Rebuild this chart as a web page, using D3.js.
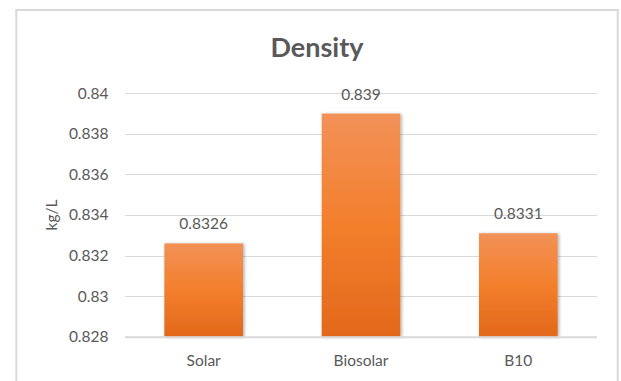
<!DOCTYPE html>
<html>
<head>
<meta charset="utf-8">
<script src="https://cdn.jsdelivr.net/npm/d3@7"></script>
<style>
  html, body { margin: 0; padding: 0; background: #fff; }
  svg { display: block; }
  text { font-family: Lato, "Open Sans", sans-serif; fill: #595959; }
</style>
</head>
<body>
<svg id="chart" width="621" height="381"></svg>
<script>
// Density of each fuel sample (kg/L)
const categories = ["Solar", "Biosolar", "B10"];
const density = [0.8326, 0.839, 0.8331];
const valueLabels = ["0.8326", "0.839", "0.8331"];
const yTicks = [0.828, 0.83, 0.832, 0.834, 0.836, 0.838, 0.84];
const yTickLabels = ["0.828", "0.83", "0.832", "0.834", "0.836", "0.838", "0.84"];
const chartTitle = "Density";
const yTitle = "kg/L";

const svg = d3.select("#chart");
const W = 621, H = 381;
const plot = { left: 125, right: 597, top: 93.3, bottom: 336.7 };

// chart frame
svg.append("rect")
  .attr("x", 16.3).attr("y", 10)
  .attr("width", 601.4).attr("height", 400)
  .attr("fill", "#fff")
  .attr("stroke", "#d9d9d9")
  .attr("stroke-width", 2);

const defs = svg.append("defs");
const grad = defs.append("linearGradient")
  .attr("id", "barGrad")
  .attr("x1", 0).attr("y1", 0).attr("x2", 0).attr("y2", 1);
grad.append("stop").attr("offset", "0%").attr("stop-color", "#f29158");
grad.append("stop").attr("offset", "50%").attr("stop-color", "#f37f2c");
grad.append("stop").attr("offset", "100%").attr("stop-color", "#e2681b");

const shadow = defs.append("filter").attr("id", "barShadow")
  .attr("x", "-10%").attr("y", "-10%").attr("width", "130%").attr("height", "120%");
shadow.append("feDropShadow")
  .attr("dx", 1.5).attr("dy", 0.5)
  .attr("stdDeviation", 1.4)
  .attr("flood-color", "#000")
  .attr("flood-opacity", 0.3);

const x = d3.scaleBand()
  .domain(categories)
  .range([plot.left, plot.right])
  .paddingInner(0.5)
  .paddingOuter(0.25);

const y = d3.scaleLinear()
  .domain([yTicks[0], yTicks[yTicks.length - 1]])
  .range([plot.bottom, plot.top]);

// horizontal gridlines
const grid = svg.append("g")
  .attr("transform", `translate(${plot.left},0)`)
  .call(d3.axisLeft(y)
    .tickValues(yTicks)
    .tickSize(-(plot.right - plot.left))
    .tickFormat(""));
grid.select(".domain").remove();
grid.selectAll("line")
  .attr("stroke", "#d9d9d9")
  .attr("stroke-width", 1)
  .attr("shape-rendering", "crispEdges");

// y tick labels
const yAxis = svg.append("g")
  .attr("transform", `translate(108.5,0)`)
  .call(d3.axisLeft(y)
    .tickValues(yTicks)
    .tickSize(0)
    .tickPadding(0)
    .tickFormat((d, i) => yTickLabels[i]));
yAxis.select(".domain").remove();
yAxis.selectAll("text")
  .attr("font-family", "Lato, 'Open Sans', sans-serif")
  .attr("font-size", 15.5)
  .attr("fill", "#595959");

// bars
svg.append("g")
  .selectAll("rect")
  .data(density)
  .join("rect")
  .attr("x", (d, i) => x(categories[i]))
  .attr("width", x.bandwidth())
  .attr("y", d => y(d))
  .attr("height", d => y.range()[0] - y(d))
  .attr("fill", "url(#barGrad)")
  .attr("filter", "url(#barShadow)");

// baseline
svg.append("line")
  .attr("x1", plot.left).attr("x2", plot.right)
  .attr("y1", plot.bottom + 0.5).attr("y2", plot.bottom + 0.5)
  .attr("stroke", "#d9d9d9")
  .attr("stroke-width", 2);

// value labels
svg.append("g")
  .selectAll("text")
  .data(density)
  .join("text")
  .attr("x", (d, i) => x(categories[i]) + x.bandwidth() / 2)
  .attr("y", d => y(d) - 14)
  .attr("text-anchor", "middle")
  .attr("font-size", 15.5)
  .text((d, i) => valueLabels[i]);

// category labels
const xAxis = svg.append("g")
  .attr("transform", `translate(0,${plot.bottom})`)
  .call(d3.axisBottom(x).tickSize(0).tickPadding(0));
xAxis.select(".domain").remove();
xAxis.selectAll("text")
  .attr("font-family", "Lato, 'Open Sans', sans-serif")
  .attr("font-size", 15.5)
  .attr("fill", "#595959")
  .attr("dy", null)
  .attr("y", 29.5);

// axis title
svg.append("text")
  .attr("transform", `translate(57,${(plot.top + plot.bottom) / 2}) rotate(-90)`)
  .attr("text-anchor", "middle")
  .attr("font-size", 15.5)
  .text(yTitle);

// chart title
svg.append("text")
  .attr("x", 317)
  .attr("y", 57)
  .attr("text-anchor", "middle")
  .attr("font-size", 27)
  .attr("font-weight", "bold")
  .text(chartTitle);
</script>
</body>
</html>
